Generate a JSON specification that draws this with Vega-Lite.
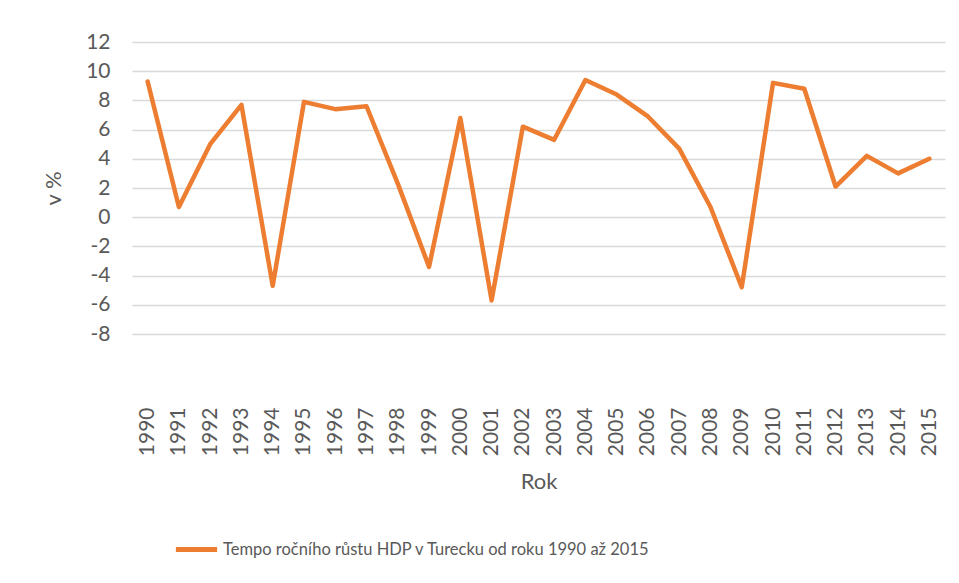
{
  "$schema": "https://vega.github.io/schema/vega-lite/v6.json",
  "width": 813,
  "height": 292,
  "autosize": {"type": "none"},
  "padding": {"left": 132, "top": 42, "right": 14, "bottom": 249},
  "background": "white",
  "config": {
    "view": {"stroke": null},
    "font": "Lato",
    "axis": {"labelColor": "#595959", "titleColor": "#595959", "labelFont": "Lato", "titleFont": "Lato", "labelFontSize": 21, "titleFontSize": 22, "titleFontWeight": "normal"},
    "legend": {"labelColor": "#595959", "labelFont": "Lato", "labelFontSize": 16.5}
  },
  "data": {
    "values": [
      {"rok": "1990", "v": 9.3}, {"rok": "1991", "v": 0.7}, {"rok": "1992", "v": 5.0},
      {"rok": "1993", "v": 7.7}, {"rok": "1994", "v": -4.7}, {"rok": "1995", "v": 7.9},
      {"rok": "1996", "v": 7.4}, {"rok": "1997", "v": 7.6}, {"rok": "1998", "v": 2.3},
      {"rok": "1999", "v": -3.4}, {"rok": "2000", "v": 6.8}, {"rok": "2001", "v": -5.7},
      {"rok": "2002", "v": 6.2}, {"rok": "2003", "v": 5.3}, {"rok": "2004", "v": 9.4},
      {"rok": "2005", "v": 8.4}, {"rok": "2006", "v": 6.9}, {"rok": "2007", "v": 4.7},
      {"rok": "2008", "v": 0.7}, {"rok": "2009", "v": -4.8}, {"rok": "2010", "v": 9.2},
      {"rok": "2011", "v": 8.8}, {"rok": "2012", "v": 2.1}, {"rok": "2013", "v": 4.2},
      {"rok": "2014", "v": 3.0}, {"rok": "2015", "v": 4.0}
    ]
  },
  "mark": {"type": "line", "strokeWidth": 4.5, "strokeCap": "round", "strokeJoin": "round"},
  "encoding": {
    "x": {
      "field": "rok", "type": "ordinal", "title": "Rok",
      "scale": {"type": "point", "padding": 0.5},
      "axis": {"labelAngle": -90, "labelAlign": "right", "labelBaseline": "middle", "labelPadding": 73, "ticks": false, "domain": false, "grid": false, "titlePadding": 16}
    },
    "y": {
      "field": "v", "type": "quantitative", "title": "v %",
      "scale": {"domain": [-8, 12], "nice": false, "zero": false},
      "axis": {"values": [-8, -6, -4, -2, 0, 2, 4, 6, 8, 10, 12], "labelExpr": "'' + datum.value", "ticks": false, "domain": false, "grid": true, "gridColor": "#D9D9D9", "gridWidth": 1.5, "labelPadding": 22, "titlePadding": 20}
    },
    "color": {
      "datum": "Tempo ročního růstu HDP v Turecku od roku 1990 až 2015",
      "scale": {"range": ["#ED7D31"]},
      "legend": {"title": null, "orient": "none", "legendX": 41, "legendY": 484, "symbolType": "stroke", "symbolSize": 1700, "symbolStrokeWidth": 5, "labelOffset": 3, "labelLimit": 0}
    }
  }
}
